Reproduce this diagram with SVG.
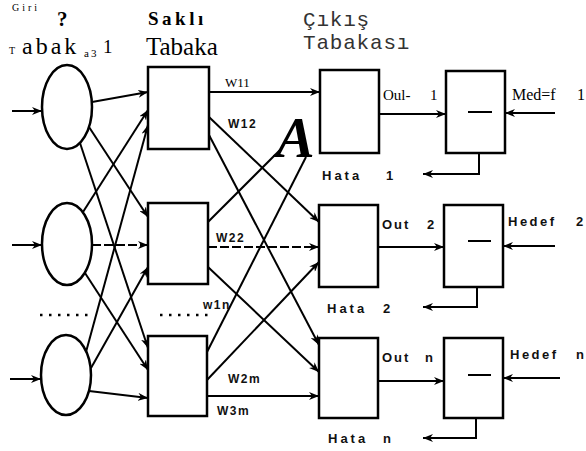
<svg xmlns="http://www.w3.org/2000/svg" width="586" height="451" viewBox="0 0 586 451">
<style>
.n{fill:#fff;stroke:#000;stroke-width:2.5}
.c{fill:none;stroke:#000;stroke-width:2}
.a{marker-end:url(#ah)}
.d{stroke-dasharray:9 3}
.ser{font-family:"Liberation Serif",serif;fill:#000}
.blk{font-family:"Liberation Sans",sans-serif;font-weight:bold;fill:#111;font-size:12px;letter-spacing:1.5px}
.big{font-size:13px;letter-spacing:3px}
.mono{font-family:"Liberation Mono",monospace;fill:#333;font-size:21px;letter-spacing:0.8px}
.minus{stroke:#000;stroke-width:2}
</style>
<defs>
<marker id="ah" viewBox="0 0 10 8" refX="10" refY="4" markerWidth="10" markerHeight="8" markerUnits="userSpaceOnUse" orient="auto">
<path d="M0,0 L10,4 L0,8 L3,4 z" fill="#000"/>
</marker>
</defs>
<rect width="586" height="451" fill="#fff"/>

<g id="titles">
<text class="ser" x="12" y="11" font-size="10" style="letter-spacing:3px">Giri</text>
<text class="ser" x="57" y="26" font-size="21" font-weight="bold">?</text>
<text class="ser" x="9" y="54" font-size="10">T</text>
<text class="ser" x="22" y="54" font-size="24" style="letter-spacing:3px">abak</text>
<text class="ser" x="84" y="57" font-size="11" style="letter-spacing:2px">a3</text>
<text class="ser" x="103" y="53" font-size="19">1</text>
<text class="ser" x="148" y="25" font-size="19" font-weight="bold" style="letter-spacing:3.5px">Saklı</text>
<text class="ser" x="146" y="55" font-size="25">Tabaka</text>
<text class="mono" x="303" y="26">Çıkış</text>
<text class="mono" x="303" y="49">Tabakası</text>
</g>

<g id="connectors">
<path class="c a" d="M12,111 H42"/>
<path class="c a" d="M12,245 H42"/>
<path class="c a" d="M10,379 H41"/>

<path class="c a" d="M92,102 L148,92"/>
<path class="c a" d="M89,127 L148,217"/>
<path class="c a" d="M80,143 L148,348"/>
<path class="c a" d="M83,212 L148,110"/>
<path class="c a d" d="M92,245 L148,245"/>
<path class="c a" d="M85,273 L148,370"/>
<path class="c a" d="M86,352 L148,125"/>
<path class="c a" d="M91,368 L148,267"/>
<path class="c a" d="M89,391 L148,398"/>

<path class="c a" d="M209,92 L320,92"/>
<path class="c a" d="M209,117 L319,222"/>
<path class="c a" d="M209,135 L319,345"/>
<path class="c" d="M208,222 L280,150"/>
<path class="c a d" d="M208,247 L319,247"/>
<path class="c a" d="M208,267 L319,372"/>
<path class="c" d="M207,352 L306,157"/>
<path class="c a" d="M207,380 L319,262"/>
<path class="c a" d="M207,396 L319,396"/>

<path class="c a" d="M379,114 L446,114"/>
<path class="c a" d="M378,247 L444,247"/>
<path class="c a" d="M378,381 L444,381"/>

<path class="c a" d="M555,113 L505,113"/>
<path class="c a" d="M555,246 L503,246"/>
<path class="c a" d="M560,378 L503,378"/>

<path class="c a" d="M479,153 V174 H423"/>
<path class="c a" d="M477,287 V307 H423"/>
<path class="c a" d="M476,418 V438 H423"/>

<path d="M40,315 H88" stroke="#000" stroke-width="2.5" stroke-dasharray="2.5 6.5"/>
<path d="M160,315 H208" stroke="#000" stroke-width="2.5" stroke-dasharray="2.5 6.5"/>
</g>

<g id="input1"><ellipse class="n" cx="67" cy="107" rx="25" ry="42"/></g>
<g id="input2"><ellipse class="n" cx="67" cy="244" rx="25" ry="41"/></g>
<g id="input3"><ellipse class="n" cx="66" cy="375" rx="25" ry="40"/></g>

<g id="hidden1"><rect class="n" x="148" y="67" width="61" height="82"/></g>
<g id="hidden2"><rect class="n" x="148" y="203" width="60" height="81"/></g>
<g id="hidden3"><rect class="n" x="148" y="336" width="59" height="80"/></g>

<g id="output1"><rect class="n" x="320" y="70" width="59" height="83"/></g>
<g id="output2"><rect class="n" x="319" y="205" width="59" height="82"/></g>
<g id="output3"><rect class="n" x="319" y="338" width="59" height="80"/></g>

<g id="sub1"><rect class="n" x="446" y="71" width="59" height="82"/><path class="minus" stroke-width="3" d="M468,112 H492"/></g>
<g id="sub2"><rect class="n" x="444" y="205" width="59" height="82"/><path class="minus" d="M468,241 H491"/></g>
<g id="sub3"><rect class="n" x="444" y="338" width="59" height="80"/><path class="minus" d="M468,375 H491"/></g>

<g id="labels">
<text class="ser" x="225" y="87" font-size="13">W11</text>
<text class="blk" x="228" y="128">W12</text>
<text class="blk" x="216" y="242">W22</text>
<text class="blk" x="203" y="309">w1n</text>
<text class="blk" x="228" y="383">W2m</text>
<text class="blk" x="217" y="415">W3m</text>
<text class="ser" x="276" y="157" font-size="58" font-weight="bold" font-style="italic">A</text>
<text class="ser" x="383" y="100" font-size="15">Oul-</text>
<text class="ser" x="430" y="100" font-size="15">1</text>
<text class="ser" x="512" y="100" font-size="16">Med=f</text>
<text class="ser" x="577" y="100" font-size="16">1</text>
<text class="blk big" x="322" y="180">Hata</text>
<text class="blk big" x="386" y="180">1</text>
<text class="blk big" x="382" y="229" style="letter-spacing:2px">Out</text>
<text class="blk big" x="427" y="229">2</text>
<text class="blk big" x="508" y="226" style="letter-spacing:2.5px">Hedef</text>
<text class="blk big" x="576" y="226">2</text>
<text class="blk big" x="327" y="313">Hata</text>
<text class="blk big" x="383" y="313">2</text>
<text class="blk big" x="382" y="362" style="letter-spacing:2px">Out</text>
<text class="blk big" x="425" y="362">n</text>
<text class="blk big" x="510" y="359" style="letter-spacing:2.5px">Hedef</text>
<text class="blk big" x="576" y="359">n</text>
<text class="blk big" x="328" y="443">Hata</text>
<text class="blk big" x="383" y="443">n</text>
</g>
</svg>
